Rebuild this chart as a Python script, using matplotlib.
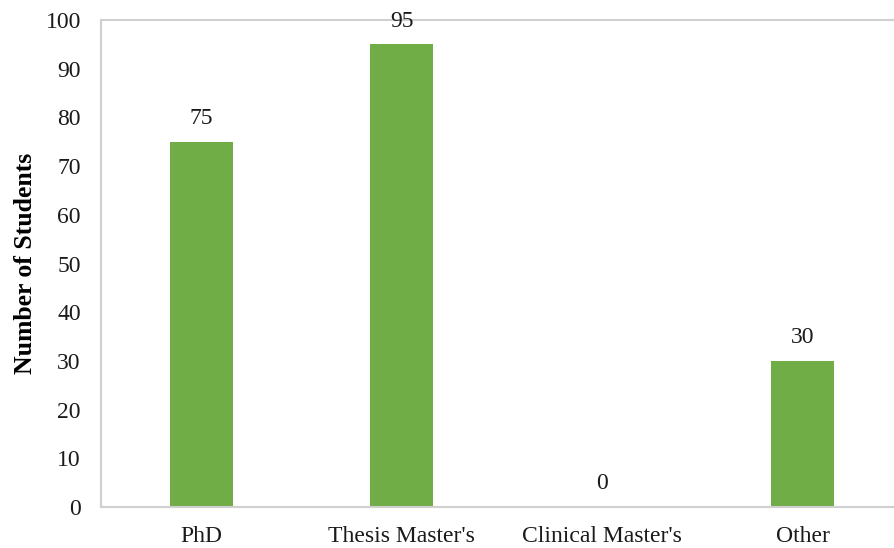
import matplotlib
matplotlib.use("Agg")
import matplotlib.pyplot as plt

categories = ["PhD", "Thesis Master's", "Clinical Master's", "Other"]
students = [75, 95, 0, 30]
y_ticks = [0, 10, 20, 30, 40, 50, 60, 70, 80, 90, 100]

plt.rcParams["font.family"] = ["Liberation Serif", "DejaVu Serif"]

fig = plt.figure(figsize=(8.94, 5.48), dpi=100)
ax = fig.add_axes([101 / 894, 41 / 548, 802 / 894, 487 / 548])

x = range(len(categories))
ax.bar(x, students, width=0.315, color="#70AD47", zorder=2)

for xi, v in zip(x, students):
    ax.text(xi, v + 2.6, f"{v}", ha="center", va="bottom", fontsize=17, color="#1a1a1a")

ax.set_xlim(-0.5, len(categories) - 0.5)
ax.set_ylim(0, 100)
ax.set_yticks(y_ticks)
ax.set_xticks(list(x))
ax.set_xticklabels(categories)
ax.tick_params(axis="both", length=0, labelsize=17, colors="#1a1a1a")
ax.tick_params(axis="y", pad=14.5)
ax.tick_params(axis="x", pad=13.5)

for side in ["left", "bottom", "top"]:
    ax.spines[side].set_color("#d0d0d0")
    ax.spines[side].set_linewidth(1.5)
ax.spines["right"].set_visible(False)

ax.set_ylabel("Number of Students", fontsize=18.5, fontweight="bold", labelpad=6)

fig.savefig("out.png", dpi=100)
